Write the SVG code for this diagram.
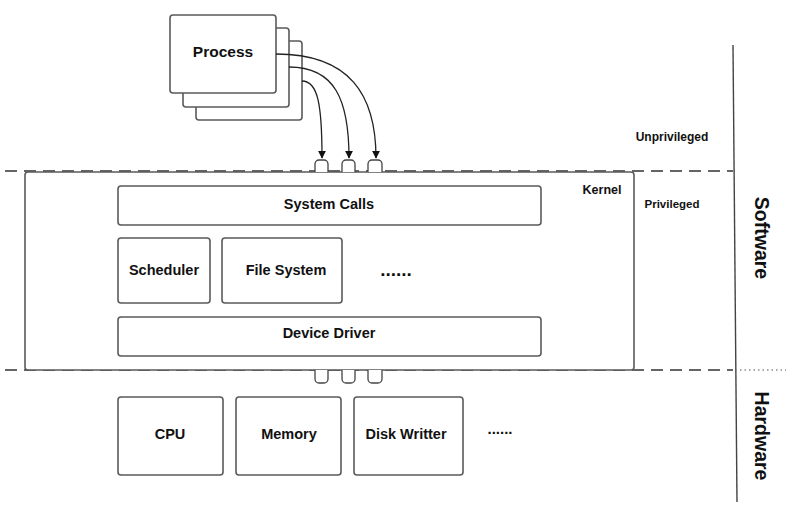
<svg xmlns="http://www.w3.org/2000/svg" width="786" height="510" viewBox="0 0 786 510">
<defs>
<style>
.box{fill:#fff;stroke:#5a5a5a;stroke-width:1.6}
.t{font-family:"Liberation Sans",Arial,sans-serif;font-weight:bold;font-size:14.5px;fill:#111;text-anchor:middle;dominant-baseline:central}
.dash{stroke:#333;stroke-width:1.4;stroke-dasharray:12 7;fill:none}
.wire{stroke:#222;stroke-width:1.3;fill:none}
.port{fill:#fff;stroke:#444;stroke-width:1.3}
.dots{font-family:"Liberation Sans",Arial,sans-serif;font-weight:bold;fill:#111;text-anchor:middle}
</style>
<marker id="ah" viewBox="0 0 10 10" refX="9" refY="5" markerWidth="8" markerHeight="8" markerUnits="userSpaceOnUse" orient="auto">
<path d="M0,0 L10,5 L0,10 z" fill="#111"/>
</marker>
</defs>
<rect width="786" height="510" fill="#fff"/>
<g id="boundaries">
<line class="dash" x1="5" y1="171" x2="733" y2="171"/>
<line class="dash" x1="5" y1="370" x2="733" y2="370"/>
<line x1="740" y1="370" x2="786" y2="370" stroke="#555" stroke-width="1.2" stroke-dasharray="1.5 3"/>
<line x1="733" y1="45" x2="737" y2="502" stroke="#444" stroke-width="1.4"/>
</g>
<g id="process">
<rect class="box" x="196" y="41" width="106" height="79" rx="3"/>
<rect class="box" x="183" y="28" width="106" height="79" rx="3"/>
<rect class="box" x="170" y="15" width="106" height="78" rx="3"/>
<text class="t" x="223" y="51" style="font-size:15.5px">Process</text>
</g>
<g id="kernel">
<rect class="box" x="25" y="172" width="609" height="198" rx="3"/>
<text class="t" x="602" y="190" style="font-size:12.5px">Kernel</text>
</g>
<g id="ports">
<path class="port" d="M315,172 V164 a4,4 0 0 1 4,-4 h5 a4,4 0 0 1 4,4 V172"/>
<path class="port" d="M342,172 V164 a4,4 0 0 1 4,-4 h5 a4,4 0 0 1 4,4 V172"/>
<path class="port" d="M368,172 V164 a4,4 0 0 1 4,-4 h6 a4,4 0 0 1 4,4 V172"/>
<path class="port" d="M315,370 V379 a4,4 0 0 0 4,4 h5 a4,4 0 0 0 4,-4 V370"/>
<path class="port" d="M342,370 V379 a4,4 0 0 0 4,4 h5 a4,4 0 0 0 4,-4 V370"/>
<path class="port" d="M368,370 V379 a4,4 0 0 0 4,4 h6 a4,4 0 0 0 4,-4 V370"/>
</g>
<g id="syscalls">
<rect class="box" x="118" y="186" width="423" height="39" rx="3"/>
<text class="t" x="329" y="204">System Calls</text>
</g>
<g id="scheduler">
<rect class="box" x="118" y="238" width="92" height="65" rx="3"/>
<text class="t" x="164" y="270">Scheduler</text>
</g>
<g id="filesystem">
<rect class="box" x="222" y="238" width="120" height="65" rx="3"/>
<text class="t" x="286" y="270">File System</text>
</g>
<text class="dots" x="396" y="276" style="font-size:19px">......</text>
<g id="devicedriver">
<rect class="box" x="118" y="317" width="423" height="39" rx="3"/>
<text class="t" x="329" y="333">Device Driver</text>
</g>
<g id="cpu">
<rect class="box" x="118" y="397" width="105" height="78" rx="3"/>
<text class="t" x="170" y="434">CPU</text>
</g>
<g id="memory">
<rect class="box" x="236" y="397" width="105" height="78" rx="3"/>
<text class="t" x="289" y="434">Memory</text>
</g>
<g id="disk">
<rect class="box" x="354" y="397" width="109" height="78" rx="3"/>
<text class="t" x="406" y="434">Disk Writter</text>
</g>
<text class="dots" x="500" y="434" style="font-size:15px">......</text>
<g id="labels">
<text class="t" x="672" y="137" style="font-size:12px">Unprivileged</text>
<text class="t" x="672" y="204" style="font-size:11.5px">Privileged</text>
<text class="t" style="font-size:19.5px" transform="translate(762,238) rotate(90)">Software</text>
<text class="t" style="font-size:19.5px" transform="translate(762,436) rotate(90)">Hardware</text>
</g>
<g id="connectors">
<path class="wire" d="M276,54 C350,54 376,95 376,158" marker-end="url(#ah)"/>
<path class="wire" d="M289,67 C335,67 349,100 349,158" marker-end="url(#ah)"/>
<path class="wire" d="M302,81 C318,81 322,105 322,158" marker-end="url(#ah)"/>
</g>
</svg>
